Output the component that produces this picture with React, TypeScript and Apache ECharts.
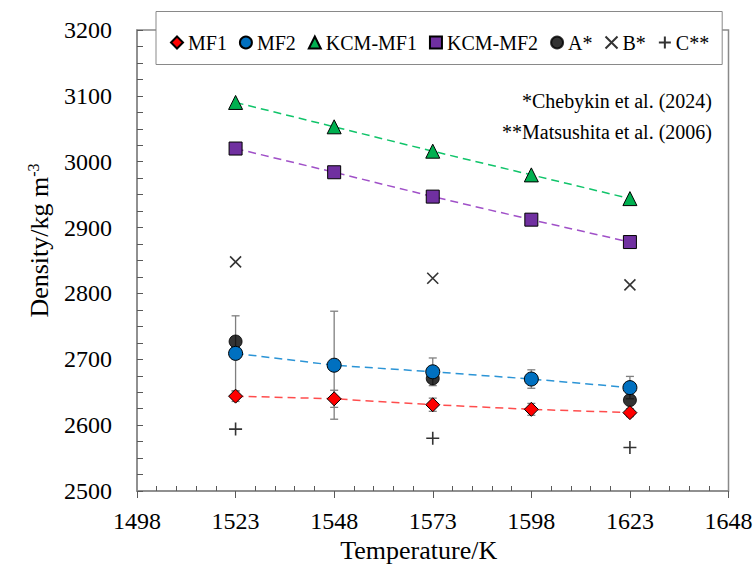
import React, { useEffect, useRef } from "react";
import * as echarts from "echarts";

const temperatures = [1523, 1548, 1573, 1598, 1623];
const mf1 = [2644, 2640, 2631, 2624, 2619];
const mf1Err = [8, 13, 10, 9, 6];
const mf2 = [2709, 2691, 2681, 2670, 2657];
const mf2Err = [57, 82, 21, 14, 17];
const kcmMf1 = [3090, 3053, 3016, 2980, 2944];
const kcmMf2 = [3020, 2984, 2947, 2912, 2878];
const refTemps = [1523, 1573, 1623];
const refA = [2727, 2671, 2638];
const refB = [2848, 2823, 2813];
const refC = [2594, 2580, 2566];
const seriesNames = ["MF1", "MF2", "KCM-MF1", "KCM-MF2", "A*", "B*", "C**"];
const notes = ["*Chebykin et al. (2024)", "**Matsushita et al. (2006)"];

const FONT = "Liberation Serif";
const CROSS = "path://M0,0L10,10M10,0L0,10";
const PLUS = "path://M5,0L5,10M0,5L10,5";

const pairs = (xs: number[], ys: number[]) => xs.map((x, i) => [x, ys[i]]);
const triples = (xs: number[], ys: number[], es: number[]) => xs.map((x, i) => [x, ys[i], es[i]]);

const errorRender = (params: any, api: any) => {
  const x = api.value(0);
  const y = api.value(1);
  const e = api.value(2);
  const top = api.coord([x, y + e]);
  const bot = api.coord([x, y - e]);
  const hw = 4;
  const style = { stroke: "#7f7f7f", lineWidth: 1.3 };
  return {
    type: "group",
    children: [
      { type: "line", shape: { x1: top[0], y1: top[1], x2: bot[0], y2: bot[1] }, style },
      { type: "line", shape: { x1: top[0] - hw, y1: top[1], x2: top[0] + hw, y2: top[1] }, style },
      { type: "line", shape: { x1: bot[0] - hw, y1: bot[1], x2: bot[0] + hw, y2: bot[1] }, style },
    ],
  };
};

const lineSeries = (name: string, ys: number[], symbol: string, size: number, fill: string, lineColor: string) => ({
  name,
  type: "line",
  z: 3,
  data: pairs(temperatures, ys),
  symbol,
  symbolSize: size,
  itemStyle: { color: fill, borderColor: "#000", borderWidth: 1 },
  lineStyle: { color: lineColor, width: 1.5, type: [8, 5] },
});

export default function App() {
  const ref = useRef<HTMLDivElement>(null);
  useEffect(() => {
    if (!ref.current) return;
    const chart = echarts.init(ref.current, null, { renderer: "svg" });
    const axisLine = { show: true, lineStyle: { color: "#898989", width: 1.5 } };
    const plain = (v: number) => String(v);
    chart.setOption({
      animation: false,
      backgroundColor: "#fff",
      textStyle: { fontFamily: FONT },
      grid: {
        left: 137,
        right: 27.5,
        top: 30,
        bottom: 78,
        show: true,
        borderColor: "#898989",
        borderWidth: 1.5,
        backgroundColor: "transparent",
      },
      legend: {
        left: 156,
        top: 11.5,
        padding: [21, 13, 12, 14],
        itemGap: 12,
        itemWidth: 12,
        itemHeight: 12,
        borderColor: "#898989",
        borderWidth: 1,
        backgroundColor: "#fff",
        textStyle: { fontFamily: FONT, fontSize: 20, color: "#000" },
        data: [
          { name: seriesNames[0], icon: "diamond" },
          { name: seriesNames[1], icon: "circle" },
          { name: seriesNames[2], icon: "triangle" },
          { name: seriesNames[3], icon: "rect" },
          { name: seriesNames[4], icon: "circle" },
          { name: seriesNames[5], icon: CROSS },
          { name: seriesNames[6], icon: PLUS },
        ],
      },
      xAxis: {
        type: "value",
        min: 1498,
        max: 1648,
        interval: 25,
        name: "Temperature/K",
        nameLocation: "middle",
        nameGap: 44,
        nameTextStyle: { fontFamily: FONT, fontSize: 26, color: "#000", padding: [0, 28, 0, 0] },
        axisLine,
        axisTick: { show: true, inside: false, length: 7, lineStyle: { color: "#595959", width: 1 } },
        minorTick: { show: true, splitNumber: 5, length: -5, lineStyle: { color: "#595959", width: 1 } },
        splitLine: { show: false },
        axisLabel: { fontFamily: FONT, fontSize: 24, color: "#000", margin: 18, formatter: plain },
      },
      yAxis: {
        type: "value",
        min: 2500,
        max: 3200,
        interval: 100,
        name: "{a|Density/kg m}{s|-3}",
        nameLocation: "middle",
        nameGap: 84,
        nameRotate: 90,
        nameTextStyle: {
          fontFamily: FONT,
          color: "#000",
          padding: [0, 0, 0, 40],
          rich: {
            a: { fontFamily: FONT, fontSize: 26, color: "#000" },
            s: { fontFamily: FONT, fontSize: 16, color: "#000", padding: [0, 0, 12, 0] },
          },
        },
        axisLine,
        axisTick: { show: true, inside: true, length: 6, lineStyle: { color: "#595959", width: 1 } },
        minorTick: { show: true, splitNumber: 4, length: 6, lineStyle: { color: "#595959", width: 1 } },
        splitLine: { show: false },
        axisLabel: { fontFamily: FONT, fontSize: 24, color: "#000", margin: 25, formatter: plain },
      },
      graphic: notes.map((t, i) => ({
        type: "text",
        x: 712,
        y: 100.7 + i * 31,
        style: {
          text: t,
          align: "right",
          verticalAlign: "middle",
          fontFamily: FONT,
          fontSize: 20,
          fill: "#000",
        },
      })),
      series: [
        { type: "custom", z: 1, silent: true, data: triples(temperatures, mf2, mf2Err), renderItem: errorRender },
        { type: "custom", z: 1, silent: true, data: triples(temperatures, mf1, mf1Err), renderItem: errorRender },
        {
          name: seriesNames[4],
          type: "scatter",
          z: 2,
          data: pairs(refTemps, refA),
          symbol: "circle",
          symbolSize: 13,
          itemStyle: { color: "#000", borderColor: "#000", borderWidth: 1 },
        },
        lineSeries(seriesNames[0], mf1, "diamond", 14, "#FF0000", "#FF4D4D"),
        lineSeries(seriesNames[1], mf2, "circle", 14, "#0070C0", "#2B94D6"),
        lineSeries(seriesNames[2], kcmMf1, "triangle", 14, "#00B050", "#10C46A"),
        lineSeries(seriesNames[3], kcmMf2, "rect", 13, "#7030A0", "#A050C8"),
        {
          name: seriesNames[5],
          type: "scatter",
          z: 3,
          data: pairs(refTemps, refB),
          symbol: CROSS,
          symbolSize: 11,
          itemStyle: { color: "#000", borderColor: "#000", borderWidth: 1.6 },
        },
        {
          name: seriesNames[6],
          type: "scatter",
          z: 3,
          data: pairs(refTemps, refC),
          symbol: PLUS,
          symbolSize: 13,
          itemStyle: { color: "#000", borderColor: "#000", borderWidth: 1.6 },
        },
      ],
    });
    return () => chart.dispose();
  }, []);
  return (
    <div
      ref={ref}
      style={{ position: "fixed", left: 0, top: 0, width: 756, height: 569, background: "#fff" }}
    />
  );
}
